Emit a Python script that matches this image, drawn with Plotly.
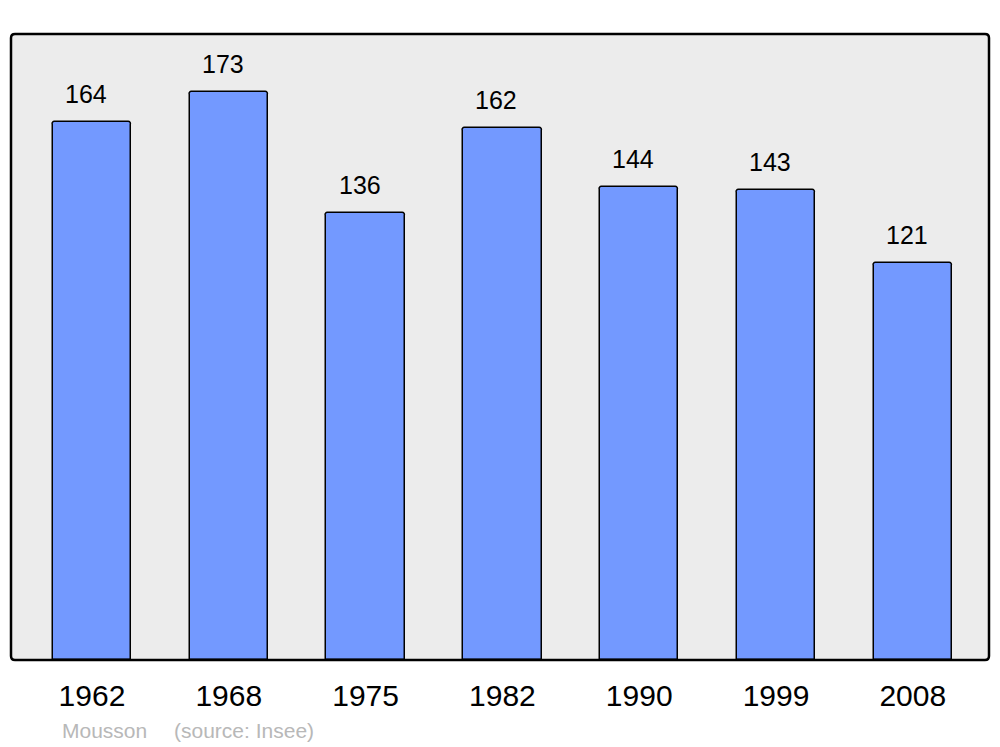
import plotly.graph_objects as go

years = ["1962", "1968", "1975", "1982", "1990", "1999", "2008"]
population = [164, 173, 136, 162, 144, 143, 121]

W, H = 1000, 747
L, R, T, B = 11, 11, 34, 87
PW, PH = W - L - R, H - T - B
xpos = list(range(len(years)))
FONT = "Liberation Sans, Arial"

fig = go.Figure()
fig.add_trace(go.Bar(
    x=xpos, y=population, width=0.574,
    marker=dict(color="#7399ff", line=dict(color="black", width=1.5), cornerradius=3),
    hoverinfo="skip",
))

for xi, v in zip(xpos, population):
    fig.add_annotation(x=xi, y=v, text=str(v), showarrow=False, yanchor="middle",
                       xshift=-6, yshift=28, font=dict(family=FONT, size=25, color="black"))

fy = (660 - 730) / PH
fig.add_annotation(xref="paper", yref="paper", x=(61 - L) / PW, y=fy,
                   text="Mousson", showarrow=False, xanchor="left", yanchor="middle",
                   xshift=-1, font=dict(family=FONT, size=21, color="#b8b8b8"))
fig.add_annotation(xref="paper", yref="paper", x=(173 - L) / PW, y=fy,
                   text="(source: Insee)", showarrow=False, xanchor="left", yanchor="middle",
                   xshift=-1, font=dict(family=FONT, size=21, color="#b8b8b8"))

# rounded frame around plot area
rx, ry = 4 / PW, 4 / PH
path = (f"M {rx},0 L {1-rx},0 Q 1,0 1,{ry} L 1,{1-ry} Q 1,1 {1-rx},1 "
        f"L {rx},1 Q 0,1 0,{1-ry} L 0,{ry} Q 0,0 {rx},0 Z")
fig.add_shape(type="path", xref="paper", yref="paper", path=path,
              line=dict(color="black", width=2.5), layer="above")

fig.update_layout(
    width=W, height=H,
    margin=dict(l=L, r=R, t=T, b=B),
    paper_bgcolor="white", plot_bgcolor="#ececec",
    showlegend=False, bargap=0,
    xaxis=dict(range=[-0.592, 6.557], tickvals=xpos, ticktext=years,
               tickfont=dict(family=FONT, size=30, color="black"),
               ticks="outside", ticklen=9, tickcolor="rgba(0,0,0,0)",
               showgrid=False, zeroline=False, showline=False, fixedrange=True),
    yaxis=dict(range=[0, 190.65], showticklabels=False, showgrid=False, zeroline=False,
               showline=False, fixedrange=True),
)

fig.write_html("out.html", config={"displayModeBar": False},
               post_script="document.body.style.margin='0';document.body.style.padding='0';")
